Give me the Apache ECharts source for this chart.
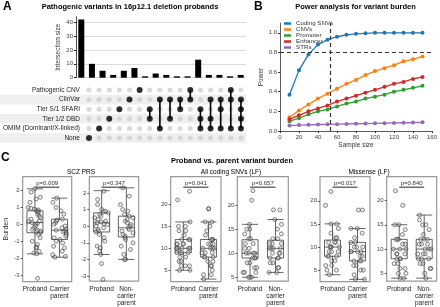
<!DOCTYPE html>
<html>
<head>
<meta charset="utf-8">
<script src="https://cdn.jsdelivr.net/npm/echarts@6/dist/echarts.min.js"></script>
<style>
  html, body { margin: 0; padding: 0; background: #fff; }
  #chart { width: 440px; height: 307px; }
</style>
</head>
<body>
<div id="chart"></div>
<script>
// ---- panel A: upset plot ----
const setRows = ['Pathogenic CNV', 'ClinVar', 'Tier S/1 SFARI', 'Tier 1/2 DBD', 'OMIM (Dominant/X-linked)', 'None']
const intersectionSizes = [42, 10, 5, 2, 5, 7, 1, 3, 2, 1, 1, 13, 2, 2, 1, 2]
// row indices (into setRows) that belong to each intersection column
const intersectionSets = [[5], [4], [3], [2], [1], [0], [2, 3], [1, 4], [1, 3], [1, 2], [0, 1], [2, 3, 4], [1, 3, 4], [1, 2, 4], [0, 1, 4], [1, 2, 3, 4]]
const shadedRows = [1, 3, 5]

// ---- panel B: power curves ----
const sampleSizes = [10, 20, 30, 40, 50, 60, 70, 80, 90, 100, 110, 120, 130, 140, 150]
const powerCodingSNVs = [0.37, 0.62, 0.78, 0.88, 0.93, 0.96, 0.98, 0.99, 0.995, 1.0, 1.0, 1.0, 1.0, 1.0, 1.0]
const powerCNVs = [0.14, 0.21, 0.27, 0.33, 0.38, 0.43, 0.48, 0.52, 0.57, 0.61, 0.64, 0.67, 0.71, 0.73, 0.76]
const powerPromoter = [0.10, 0.13, 0.17, 0.20, 0.22, 0.25, 0.28, 0.30, 0.33, 0.35, 0.37, 0.40, 0.42, 0.44, 0.46]
const powerEnhancer = [0.12, 0.16, 0.20, 0.23, 0.26, 0.30, 0.33, 0.36, 0.39, 0.42, 0.45, 0.48, 0.50, 0.53, 0.55]
const powerSTRs = [0.055, 0.06, 0.063, 0.066, 0.068, 0.07, 0.072, 0.074, 0.076, 0.078, 0.08, 0.082, 0.084, 0.086, 0.088]
const powerThreshold = 0.8
const requiredSampleSize = 53

// ---- panel C: proband vs parent burden ----
const prsProband1 = [2.1, 1.9, 1.6, 1.5, 1.3, 1.0, 0.95, 0.9, 0.85, 0.8, 0.75, 0.7, 0.6, 0.5, 0.4, 0.3, 0.2, 0.15, 0.1, 0.05, 0.0, -0.1, -0.2, -0.3, -0.35, -0.4, -0.45, -0.5, -0.6, -0.8, -1.0, -1.2, -1.35, -1.4, -1.6, -1.7, -1.75, -3.2]
const prsCarrier = [1.55, 1.3, 1.0, 0.8, 0.6, 0.3, 0.25, 0.2, 0.1, 0.0, -0.1, -0.2, -0.3, -0.35, -0.4, -0.45, -0.5, -0.6, -0.7, -0.8, -0.9, -1.0, -1.1, -1.3, -1.4, -1.6, -1.8, -1.9, -1.95]
const prsProband2 = [2.1, 1.6, 1.3, 1.0, 0.9, 0.85, 0.8, 0.7, 0.6, 0.5, 0.4, 0.3, 0.25, 0.2, 0.15, 0.1, 0.0, -0.1, -0.2, -0.3, -0.35, -0.5, -0.7, -0.9, -1.2, -1.3, -1.5, -1.7, -2.25, -3.2]
const prsNonCarrier = [2.3, 1.8, 1.3, 1.0, 0.9, 0.7, 0.6, 0.5, 0.4, 0.3, 0.2, 0.1, 0.0, -0.1, -0.2, -0.3, -0.4, -0.5, -0.6, -0.7, -0.8, -1.0, -1.2, -1.4, -1.7, -2.0, -2.0]
const codingProband1 = [23, 21, 16, 15, 15, 14, 14, 13, 12, 12, 12, 11, 11, 11, 11, 10, 10, 10, 10, 10, 10, 9, 9, 9, 9, 8, 8, 7, 7, 6, 6, 6, 5, 5]
const codingCarrier = [19, 19, 16, 16, 15, 14, 13, 12, 12, 12, 11, 11, 11, 10, 10, 10, 10, 9, 9, 9, 8, 8, 8, 7, 7, 6, 6, 5, 4, 4, 3]
const codingProband2 = [23, 21, 16, 15, 15, 14, 13, 13, 12, 12, 11, 11, 10, 10, 10, 10, 9, 9, 9, 8, 8, 7, 7, 6, 6, 6, 5, 5, 5]
const codingNonCarrier = [19, 19, 17, 16, 15, 14, 13, 13, 12, 12, 12, 11, 11, 11, 11, 10, 10, 10, 9, 9, 9, 8, 8, 7, 7, 6, 6]
const missenseProband1 = [22, 19, 15, 15, 14, 13, 12, 12, 11, 11, 11, 10, 10, 10, 10, 9, 9, 9, 8, 8, 8, 7, 7, 6, 6, 5, 5, 4]
const missenseCarrier = [18, 18, 14, 14, 13, 12, 11, 11, 10, 10, 10, 9, 9, 9, 9, 8, 8, 7, 7, 7, 6, 6, 5, 5, 4, 3, 3]
const missenseProband2 = [22, 19, 15, 15, 14, 13, 12, 12, 12, 11, 11, 10, 10, 10, 9, 9, 9, 8, 8, 8, 7, 7, 6, 6, 5, 5, 4, 4]
const missenseNonCarrier = [17, 16, 15, 15, 14, 13, 12, 12, 12, 11, 11, 11, 10, 10, 10, 9, 9, 9, 8, 8, 8, 7, 7, 6, 6, 5, 4]
// [min, Q1, median, Q3, max] per group
const boxPrsCarrier = [[-1.75, -0.5, 0.1, 0.8, 2.1], [-1.95, -0.9, -0.35, 0.3, 1.55]]
const boxPrsNonCarrier = [[-1.7, -0.35, 0.2, 0.8, 2.13], [-2.0, -0.65, -0.1, 0.6, 2.3]]
const boxCodingCarrier = [[5, 9, 10, 12, 16], [3, 8, 10, 12, 16]]
const boxCodingNonCarrier = [[5, 9, 10, 12.8, 16], [6, 9, 11, 12.7, 17]]
const boxMissenseCarrier = [[4, 8, 10, 11.5, 15], [3, 7, 9, 11, 14]]
const boxMissenseNonCarrier = [[4, 8, 10, 12, 15], [4, 8, 10, 12, 17]]
const pValues = ['0.009', '0.347', '0.041', '0.657', '0.017', '0.840']
const carrierLabels = ['Proband', 'Carrier\nparent']
const nonCarrierLabels = ['Proband', 'Non-\ncarrier\nparent']
const prsTicks = [-3, -2, -1, 0, 1, 2]
const countTicks = [5, 10, 15, 20]

const FONT = 'Liberation Sans, Arial, sans-serif'
const chart = echarts.init(document.getElementById('chart'), null, { renderer: 'canvas' })

const grid = []
const xAxis = []
const yAxis = []
const series = []

// --- A: bars ---
const colNames = intersectionSizes.map((v, i) => String(i + 1))
grid.push({ left: 76, top: 16.7, width: 170, height: 61 })
xAxis.push({
  gridIndex: 0, type: 'category', data: colNames,
  axisLine: { show: false }, axisTick: { show: false }, axisLabel: { show: false }
})
yAxis.push({
  gridIndex: 0, type: 'value', min: 0, max: 44,
  name: 'Intersection size', nameLocation: 'middle', nameGap: 14,
  nameTextStyle: { fontSize: 6.5, color: '#333' },
  axisLine: { show: true, lineStyle: { color: '#222', width: 0.8 } },
  axisTick: { show: true, length: 2, lineStyle: { color: '#222' }, customValues: [0, 10, 20, 30, 40] },
  axisLabel: { fontSize: 6, color: '#444', margin: 3, customValues: [0, 10, 20, 30, 40] },
  splitLine: { show: true, lineStyle: { color: '#dcdcdc', width: 1 } }
})
series.push({
  type: 'bar', xAxisIndex: 0, yAxisIndex: 0, data: intersectionSizes,
  barWidth: 6, itemStyle: { color: '#000' }
})

// --- A: membership matrix ---
grid.push({ left: 76, top: 85.2, width: 170, height: 57.6 })
xAxis.push({
  gridIndex: 1, type: 'category', data: colNames,
  axisLine: { show: false }, axisTick: { show: false }, axisLabel: { show: false }
})
yAxis.push({
  gridIndex: 1, type: 'category', data: setRows, inverse: true,
  axisLine: { show: false }, axisTick: { show: false },
  axisLabel: { fontSize: 6.5, color: '#222', margin: 4 }
})
series.push({
  type: 'custom', xAxisIndex: 1, yAxisIndex: 1, z: 0, silent: true,
  data: shadedRows.map(r => [0, r]),
  encode: { x: 0, y: 1 },
  renderItem: (params, api) => {
    const p = api.coord([0, api.value(1)])
    const h = api.size([0, 1])[1]
    const cs = params.coordSys
    return {
      type: 'rect',
      shape: { x: 0, y: p[1] - h / 2, width: cs.x + cs.width, height: h },
      style: { fill: '#efefef' }
    }
  }
})
const allCells = []
colNames.forEach((c, ci) => setRows.forEach((r, ri) => allCells.push([ci, ri])))
series.push({
  type: 'scatter', xAxisIndex: 1, yAxisIndex: 1, z: 2, silent: true,
  data: allCells, symbolSize: 5, itemStyle: { color: '#cfcfcf' }
})
series.push({
  type: 'custom', xAxisIndex: 1, yAxisIndex: 1, z: 3, silent: true,
  data: intersectionSets.map((s, i) => [i, Math.min(...s), Math.max(...s)]),
  encode: { x: 0, y: [1, 2] },
  renderItem: (params, api) => {
    const a = api.coord([api.value(0), api.value(1)])
    const b = api.coord([api.value(0), api.value(2)])
    return { type: 'line', shape: { x1: a[0], y1: a[1], x2: b[0], y2: b[1] }, style: { stroke: '#000', lineWidth: 1.6 } }
  }
})
const memberCells = []
intersectionSets.forEach((s, i) => s.forEach(r => memberCells.push([i, r])))
series.push({
  type: 'scatter', xAxisIndex: 1, yAxisIndex: 1, z: 4, silent: true,
  data: memberCells, symbolSize: 6, itemStyle: { color: '#000' }
})

// --- B: power analysis ---
grid.push({ left: 280, top: 23, width: 155, height: 108 })
xAxis.push({
  gridIndex: 2, type: 'value', min: 0, max: 160, interval: 20,
  name: 'Sample size', nameLocation: 'middle', nameGap: 11,
  nameTextStyle: { fontSize: 6.5, color: '#333' },
  axisLine: { show: true, lineStyle: { color: '#333', width: 0.8 } },
  axisTick: { show: true, length: 2, lineStyle: { color: '#333' } },
  axisLabel: { fontSize: 6, color: '#444', margin: 3 },
  splitLine: { show: false }
})
const powerTicks = [0, 0.2, 0.4, 0.6, 0.8, 1.0]
yAxis.push({
  gridIndex: 2, type: 'value', min: 0, max: 1.1,
  name: 'Power', nameLocation: 'middle', nameGap: 14,
  nameTextStyle: { fontSize: 6.5, color: '#333' },
  axisLine: { show: true, lineStyle: { color: '#333', width: 0.8 } },
  axisTick: { show: true, length: 2, lineStyle: { color: '#333' }, customValues: powerTicks },
  axisLabel: { fontSize: 6, color: '#444', margin: 3, customValues: powerTicks, formatter: v => v.toFixed(1) },
  splitLine: { show: false }
})
const powerSeries = [
  ['Coding SNVs', powerCodingSNVs, '#1f77b4'],
  ['CNVs', powerCNVs, '#ff7f0e'],
  ['Promoter', powerPromoter, '#2ca02c'],
  ['Enhancer', powerEnhancer, '#d62728'],
  ['STRs', powerSTRs, '#9467bd']
]
powerSeries.forEach(([name, vals, color], i) => {
  const s = {
    type: 'line', name, xAxisIndex: 2, yAxisIndex: 2,
    data: sampleSizes.map((x, j) => [x, vals[j]]),
    symbol: 'circle', symbolSize: 4, showSymbol: true,
    lineStyle: { color, width: 1.3 }, itemStyle: { color }
  }
  if (i === 0) {
    s.markLine = {
      silent: true, symbol: 'none', label: { show: false },
      lineStyle: { type: [4, 3], color: '#333', width: 1.2 },
      data: [{ yAxis: powerThreshold }, { xAxis: requiredSampleSize }]
    }
  }
  series.push(s)
})

// --- C: six box panels ---
const cPanels = [
  { left: 22.7, width: 49, range: [-3.4, 2.82], ticks: prsTicks, labels: carrierLabels, box: boxPrsCarrier, pts: [prsProband1, prsCarrier], name: 'Burden' },
  { left: 89.3, width: 49.4, range: [-3.3, 2.97], ticks: prsTicks, labels: nonCarrierLabels, box: boxPrsNonCarrier, pts: [prsProband2, prsNonCarrier] },
  { left: 170.7, width: 50.3, range: [2.4, 26.3], ticks: countTicks, labels: carrierLabels, box: boxCodingCarrier, pts: [codingProband1, codingCarrier] },
  { left: 237.3, width: 51, range: [4.2, 25.9], ticks: countTicks, labels: nonCarrierLabels, box: boxCodingNonCarrier, pts: [codingProband2, codingNonCarrier] },
  { left: 320, width: 50, range: [2.5, 25.2], ticks: countTicks, labels: carrierLabels, box: boxMissenseCarrier, pts: [missenseProband1, missenseCarrier] },
  { left: 386.7, width: 50, range: [3.4, 24.9], ticks: countTicks, labels: nonCarrierLabels, box: boxMissenseNonCarrier, pts: [missenseProband2, missenseNonCarrier] }
]
cPanels.forEach((p, k) => {
  const gi = 3 + k
  grid.push({
    left: p.left, top: 176.7, width: p.width, height: 105,
    show: true, borderColor: '#999', borderWidth: 1.2, backgroundColor: 'transparent'
  })
  xAxis.push({
    gridIndex: gi, type: 'category', data: p.labels, boundaryGap: true,
    jitter: 14, jitterOverlap: true,
    axisLine: { show: false }, axisTick: { show: false },
    axisLabel: { fontSize: 6.5, color: '#222', margin: 4, lineHeight: 7.3, interval: 0 }
  })
  yAxis.push({
    gridIndex: gi, type: 'value', min: p.range[0], max: p.range[1],
    name: p.name || '', nameLocation: 'middle', nameGap: 13,
    nameTextStyle: { fontSize: 7, color: '#333' },
    axisLine: { show: false },
    axisTick: { show: true, length: 2, lineStyle: { color: '#555' }, customValues: p.ticks },
    axisLabel: { fontSize: 6, color: '#444', margin: 3, customValues: p.ticks },
    splitLine: { show: false }
  })
  series.push({
    type: 'boxplot', xAxisIndex: gi, yAxisIndex: gi, data: p.box, silent: true,
    boxWidth: [16, 16],
    itemStyle: { color: 'rgba(255,255,255,0)', borderColor: '#222', borderWidth: 0.7 }
  })
  const pts = []
  p.pts.forEach((vals, ci) => vals.forEach(v => pts.push([ci, v])))
  series.push({
    type: 'scatter', xAxisIndex: gi, yAxisIndex: gi, data: pts, silent: true,
    symbolSize: 4, z: 3,
    itemStyle: { color: 'rgba(190,190,190,0.35)', borderColor: '#333', borderWidth: 0.7 }
  })
  const pv = pValues[k]
  series.push({
    type: 'custom', xAxisIndex: gi, yAxisIndex: gi, silent: true, z: 4,
    data: [[0, p.range[0]]], encode: { x: 0, y: 1 },
    renderItem: (params, api) => {
      const cs = params.coordSys
      const a = api.coord([0, p.range[0]])
      const b = api.coord([1, p.range[0]])
      const y = cs.y + 10.5
      return {
        type: 'group',
        children: [
          { type: 'line', shape: { x1: a[0], y1: y, x2: b[0], y2: y }, style: { stroke: '#555', lineWidth: 1.3 } },
          {
            type: 'text', x: (a[0] + b[0]) / 2, y: y - 1,
            style: { text: 'p=' + pv, fontSize: 6, fontFamily: FONT, fill: '#333', align: 'center', verticalAlign: 'bottom' }
          }
        ]
      }
    }
  })
})

function label(text, x, y, size, weight, align) {
  return {
    type: 'text', x, y, silent: true,
    style: { text, fontSize: size, fontWeight: weight, fontFamily: FONT, fill: '#000', align: align || 'center', verticalAlign: 'middle' }
  }
}

const option = {
  animation: false,
  textStyle: { fontFamily: FONT },
  grid, xAxis, yAxis, series,
  legend: {
    data: powerSeries.map(s => s[0]),
    orient: 'vertical', left: 284, top: 20.5, padding: 0,
    itemWidth: 7, itemHeight: 2.5, itemGap: 0, icon: 'rect',
    textStyle: { fontSize: 6.2, color: '#333', lineHeight: 6 }
  },
  graphic: [
    label('A', 3, 6.5, 12, 'bold', 'left'),
    label('Pathogenic variants in 16p12.1 deletion probands', 130, 6.7, 7.5, 'bold'),
    label('B', 254, 6.5, 12, 'bold', 'left'),
    label('Power analysis for variant burden', 355.5, 6.7, 7.5, 'bold'),
    label('C', 1, 158, 12, 'bold', 'left'),
    label('Proband vs. parent variant burden', 232, 161.3, 7.5, 'bold'),
    label('SCZ PRS', 81, 172.7, 6.5, 'normal'),
    label('All coding SNVs (LF)', 231, 172.7, 6.5, 'normal'),
    label('Missense (LF)', 369, 172.7, 6.5, 'normal')
  ]
}
chart.setOption(option)
</script>
</body>
</html>
